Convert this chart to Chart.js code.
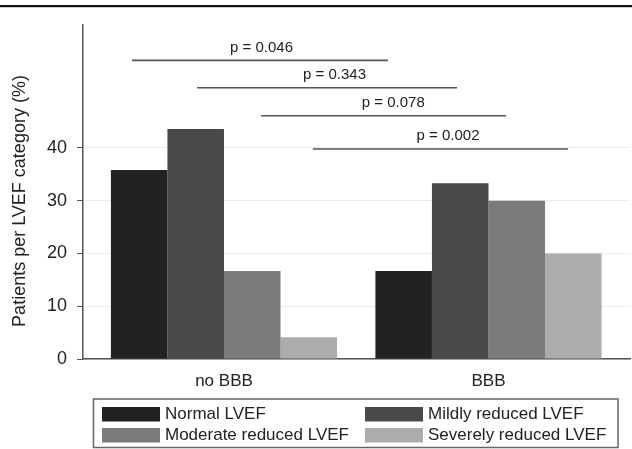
<!DOCTYPE html>
<html>
<head>
<meta charset="utf-8">
<script src="https://cdn.jsdelivr.net/npm/chart.js@4.4.1/dist/chart.umd.min.js"></script>
<style>
html,body{margin:0;padding:0;background:#fff;}
#wrap{width:632px;height:449px;position:relative;}
</style>
</head>
<body>
<div id="wrap"><canvas id="c" width="632" height="449"></canvas></div>
<script>
// ---- data ----
const categories = ["no BBB", "BBB"];
const seriesLabels = ["Normal LVEF", "Mildly reduced LVEF", "Moderate reduced LVEF", "Severely reduced LVEF"];
const normalLVEF   = [35.8, 16.7];
const mildLVEF     = [43.6, 33.3];
const moderateLVEF = [16.7, 30.0];
const severeLVEF   = [4.1, 20.0];
const yTicks = [0, 10, 20, 30, 40];
const seriesColors = ["#222222", "#494949", "#7b7b7b", "#acacac"];

// p-value brackets (x in category units, y in % units)
const pLabels = ["p = 0.046", "p = 0.343", "p = 0.078", "p = 0.002"];
const pStart  = [-0.348, -0.102, 0.140, 0.336];
const pEnd    = [0.620, 0.881, 1.066, 1.301];
const pLineY  = [56.6, 51.4, 46.1, 39.8];
const pTextX  = [0.142, 0.418, 0.640, 0.847];
const pTextY  = [59.0, 53.9, 48.6, 42.3];

const FONT = "'Liberation Sans', Arial, Helvetica, sans-serif";

const allSeries = [normalLVEF, mildLVEF, moderateLVEF, severeLVEF];
const datasets = allSeries.map((vals, s) => ({
  label: seriesLabels[s],
  data: vals.map((v, i) => ({x: i, y: v})),
  backgroundColor: seriesColors[s],
  borderWidth: 0,
  categoryPercentage: 0.855,
  barPercentage: 1.0
}));

const decor = {
  id: 'decor',
  afterDraw(chart) {
    const ctx = chart.ctx;
    const xs = chart.scales.x, ys = chart.scales.y;
    ctx.save();
    // top rule
    ctx.fillStyle = '#111';
    ctx.fillRect(0, 5, chart.width, 2.2);

    // p brackets
    ctx.strokeStyle = '#555';
    ctx.lineWidth = 1.6;
    ctx.fillStyle = '#222';
    ctx.font = '15px ' + FONT;
    ctx.textAlign = 'center';
    ctx.textBaseline = 'middle';
    for (let i = 0; i < pLabels.length; i++) {
      const y = ys.getPixelForValue(pLineY[i]);
      ctx.beginPath();
      ctx.moveTo(xs.getPixelForValue(pStart[i]), y);
      ctx.lineTo(xs.getPixelForValue(pEnd[i]), y);
      ctx.stroke();
      ctx.fillText(pLabels[i], xs.getPixelForValue(pTextX[i]), ys.getPixelForValue(pTextY[i]));
    }

    // y title
    ctx.save();
    ctx.translate(20, 201);
    ctx.rotate(-Math.PI / 2);
    ctx.font = '18px ' + FONT;
    ctx.fillStyle = '#222';
    ctx.textAlign = 'center';
    ctx.textBaseline = 'middle';
    ctx.fillText('Patients per LVEF category (%)', 0, 0);
    ctx.restore();

    // legend
    const bx = 93.5, by = 399, bw = 524.5, bh = 48.5;
    ctx.strokeStyle = '#666';
    ctx.lineWidth = 1.5;
    ctx.strokeRect(bx, by, bw, bh);
    const colX = [102, 365];
    const rowY = [407, 428];
    ctx.font = '17px ' + FONT;
    ctx.textAlign = 'left';
    ctx.textBaseline = 'middle';
    chart.data.datasets.forEach((ds, i) => {
      const cx = colX[i % 2], ry = rowY[Math.floor(i / 2)];
      ctx.fillStyle = ds.backgroundColor;
      ctx.fillRect(cx, ry, 58, 14.5);
      ctx.fillStyle = '#222';
      ctx.fillText(ds.label, cx + 63, ry + 7.5);
    });
    ctx.restore();
  }
};

new Chart(document.getElementById('c'), {
  type: 'bar',
  data: { datasets },
  options: {
    responsive: false,
    animation: false,
    layout: { padding: { top: 25, right: 2, left: 0, bottom: 0 } },
    plugins: { legend: { display: false }, tooltip: { enabled: false } },
    scales: {
      x: {
        type: 'linear',
        min: -0.533,
        max: 1.535,
        offset: false,
        grid: { display: false, drawTicks: false },
        border: { color: '#555', width: 1.5 },
        afterBuildTicks: (s) => { s.ticks = categories.map((c, i) => ({ value: i })); },
        afterFit: (s) => { s.height = 90; },
        ticks: {
          callback: (v) => categories[v] !== undefined ? categories[v] : '',
          font: { size: 17, family: FONT },
          color: '#222',
          padding: 12,
          maxRotation: 0,
          autoSkip: false
        }
      },
      y: {
        min: 0,
        max: 63.3,
        afterBuildTicks: (s) => { s.ticks = yTicks.map(v => ({ value: v })); },
        afterFit: (s) => { s.width = 83; },
        grid: { color: '#ebebeb', lineWidth: 1, tickColor: '#555', tickLength: 6 },
        border: { color: '#555', width: 1.5 },
        ticks: {
          font: { size: 18, family: FONT },
          color: '#222',
          padding: 10
        }
      }
    }
  },
  plugins: [decor]
});
</script>
</body>
</html>
